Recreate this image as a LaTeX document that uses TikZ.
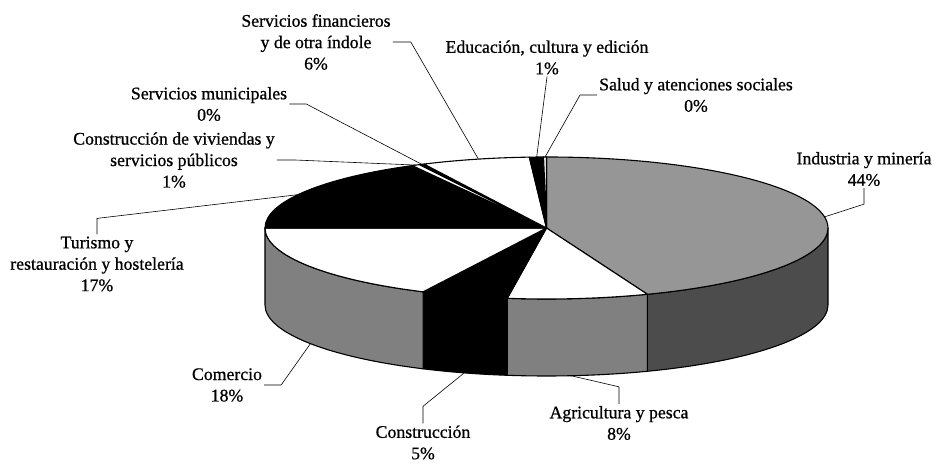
\documentclass[tikz,border=0pt]{standalone}
\usepackage{fontspec}
\setmainfont{Liberation Serif}[FakeBold=0.8]
\usetikzlibrary{calc}
\def\topslice[#1](#2:#3){\filldraw[#1] (O) -- ($(O)+(#2:281.5bp and 71bp)$) arc[start angle=#2, end angle=#3, x radius=281.5bp, y radius=71bp] -- cycle;}
\def\sideslice[#1](#2:#3){\filldraw[#1] ($(O)+(#2:281.5bp and 71bp)$) arc[start angle=#2, end angle=#3, x radius=281.5bp, y radius=71bp] -- ++(0,-77) arc[start angle=#3, end angle=#2, x radius=281.5bp, y radius=71bp] -- cycle;}

\begin{document}
\begin{tikzpicture}[x=1bp, y=1bp,
		pie/.style={line width=1.1pt, line join=round},
		leader/.style={line width=0.6pt},
		lbl/.style={align=center, inner sep=2pt, font=\fontsize{17.8}{21.5}\selectfont}]
			%%%%% START %%%%%
			
			\useasboundingbox (0, 0) rectangle (936, 465);
			\coordinate (O) at (546.5, 237);
			\coordinate (B) at (546.5, 160);
			
			% sides
			\sideslice[pie, fill=black!70](0:-69);
			\sideslice[pie, fill=black!50](-69:-98);
			\sideslice[pie, fill=black](-98:-116);
			\sideslice[pie, fill=black!50](-116:-180);
			
			% top
			\topslice[pie, fill=black!41](90:-69);
			\topslice[pie, fill=white](-69:-98);
			\topslice[pie, fill=black](-98:-116);
			\topslice[pie, fill=white](-116:-180);
			\topslice[pie, fill=black](180:118.5);
			\topslice[pie, fill=white](118.5:116.8);
			\topslice[pie, fill=black](116.8:115.8);
			\topslice[pie, fill=white](115.8:93.5);
			\topslice[pie, fill=black](93.5:90.6);
			\topslice[pie, fill=white](90.6:90);
			
			% rim points
			\coordinate (rInd) at ($(O)+(9:281.5bp and 71bp)$);
			\coordinate (rAgr) at ($(B)+(-85:281.5bp and 71bp)$);
			\coordinate (rCon) at ($(B)+(-107:281.5bp and 71bp)$);
			\coordinate (rCom) at ($(B)+(-147:281.5bp and 71bp)$);
			\coordinate (rTur) at ($(O)+(152:281.5bp and 71bp)$);
			\coordinate (rViv) at ($(O)+(117.6:281.5bp and 71bp)$);
			\coordinate (rMun) at ($(O)+(116.3:281.5bp and 71bp)$);
			\coordinate (rFin) at ($(O)+(104:281.5bp and 71bp)$);
			\coordinate (rEdu) at ($(O)+(92:281.5bp and 71bp)$);
			\coordinate (rSal) at ($(O)+(90.3:281.5bp and 71bp)$);
			
			% labels
			\node[lbl] (lInd) at (864, 296) {Industria y minería\\44\%};
			\node[lbl] (lAgr) at (619, 42) {Agricultura y pesca\\8\%};
			\node[lbl] (lCon) at (423, 22.5) {Construcción\\5\%};
			\node[lbl] (lCom) at (227, 80) {Comercio\\18\%};
			\node[lbl] (lTur) at (97, 201) {Turismo y\\restauración y hostelería\\17\%};
			\node[lbl] (lViv) at (174, 305) {Construcción de viviendas y\\servicios públicos\\1\%};
			\node[lbl] (lMun) at (209, 361) {Servicios municipales\\0\%};
			\node[lbl] (lFin) at (316, 423) {Servicios financieros\\y de otra índole\\6\%};
			\node[lbl] (lEdu) at (547, 407.5) {Educación, cultura y edición\\1\%};
			\node[lbl] (lSal) at (696, 370) {Salud y atenciones sociales\\0\%};
			
			% leaders
			\draw[leader] (lInd.south) -- ++(0, -16) -- (rInd);
			\draw[leader] (lAgr.north) -- ++(0, 17) -- (rAgr);
			\draw[leader] (lCon.north) -- ++(0, 17) -- (rCon);
			\draw[leader] (lCom.east) -- ++(17, 0) -- (rCom);
			\draw[leader] (lTur.north) -- ++(0, 16) -- (rTur);
			\draw[leader] (lViv.east) -- ++(18, 0) -- (rViv);
			\draw[leader] (lMun.east) -- ++(17, 0) -- (rMun);
			\draw[leader] (lFin.east) -- ++(18, 0) -- (rFin);
			\draw[leader] (lEdu.south) -- (rEdu);
			\draw[leader] (lSal.west) -- ++(-17, 0) -- (rSal);
			
			%%%%% END %%%%%
		\end{tikzpicture}
\end{document}
